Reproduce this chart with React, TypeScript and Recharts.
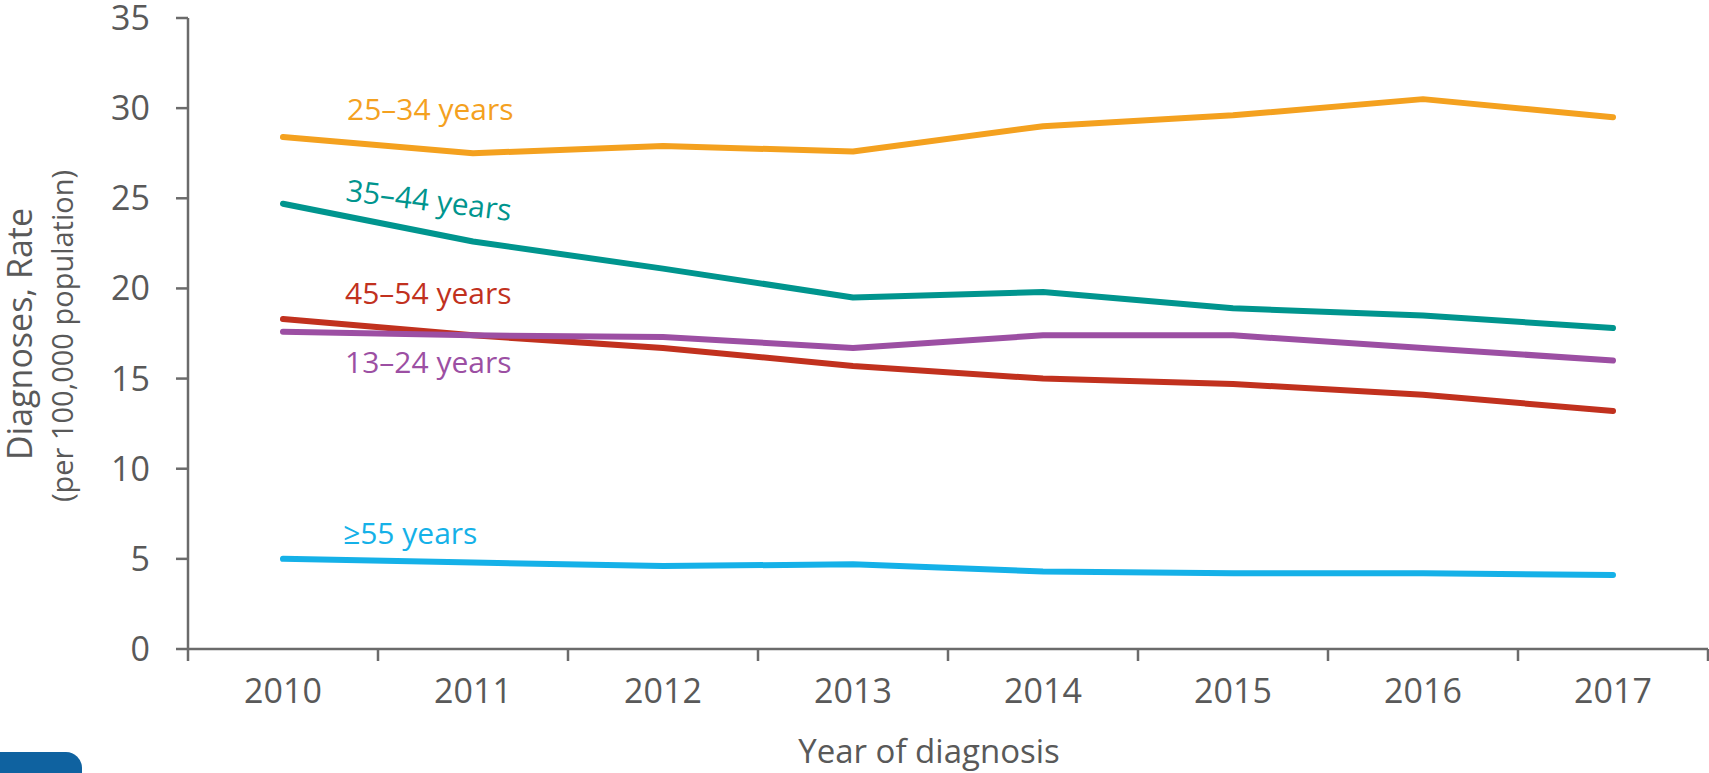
import React from "react";
import { LineChart, Line, XAxis, YAxis, Label } from "recharts";

const years = [2010, 2011, 2012, 2013, 2014, 2015, 2016, 2017];
const age13to24 = [17.6, 17.4, 17.3, 16.7, 17.4, 17.4, 16.7, 16.0];
const age25to34 = [28.4, 27.5, 27.9, 27.6, 29.0, 29.6, 30.5, 29.5];
const age35to44 = [24.7, 22.6, 21.1, 19.5, 19.8, 18.9, 18.5, 17.8];
const age45to54 = [18.3, 17.4, 16.7, 15.7, 15.0, 14.7, 14.1, 13.2];
const age55plus = [5.0, 4.8, 4.6, 4.7, 4.3, 4.2, 4.2, 4.1];
const yTicks = [0, 5, 10, 15, 20, 25, 30, 35];

const FONT = "Open Sans";
const AXIS = "#6b6b6b";
const TEXT = "#595959";

const data = years.map((year, i) => ({
  year,
  a13: age13to24[i],
  a25: age25to34[i],
  a35: age35to44[i],
  a45: age45to54[i],
  a55: age55plus[i],
}));

// whole years carry the labels, half years carry the tick marks between categories
const xTicks = years.flatMap((y) => [y - 0.5, y]).concat(years[years.length - 1] + 0.5);

const series = [
  { key: "a25", name: "25–34 years", color: "#f4a11f", dx: 64, dy: -17, rotate: 0 },
  { key: "a35", name: "35–44 years", color: "#00958e", dx: 62, dy: -3, rotate: 7 },
  { key: "a45", name: "45–54 years", color: "#c1311e", dx: 62, dy: -15, rotate: 0 },
  { key: "a13", name: "13–24 years", color: "#9c4fa3", dx: 62, dy: 41, rotate: 0 },
  { key: "a55", name: "≥55 years", color: "#15b1e8", dx: 60, dy: -15, rotate: 0 },
];

function YearTick(props: any) {
  const { x, y, payload } = props;
  const v = payload.value;
  if (!Number.isInteger(v)) {
    return <line x1={x} y1={y} x2={x} y2={y + 12} stroke={AXIS} strokeWidth={2.5} />;
  }
  return (
    <text x={x} y={y + 54} textAnchor="middle" fill={TEXT} fontSize={34} fontFamily={FONT}>
      {v}
    </text>
  );
}

function seriesLabel(s: (typeof series)[number]) {
  return (p: any) => {
    if (p.index !== 0) return null;
    const x = p.x + s.dx;
    const y = p.y + s.dy;
    return (
      <text
        x={x}
        y={y}
        fill={s.color}
        fontSize={30}
        fontFamily={FONT}
        transform={s.rotate ? `rotate(${s.rotate} ${x} ${y})` : undefined}
      >
        {s.name}
      </text>
    );
  };
}

export default function App() {
  return (
    <div style={{ position: "absolute", left: 0, top: 0, width: 1709, height: 773, background: "#fff" }}>
      <LineChart width={1709} height={773} data={data} margin={{ top: 18, right: 1, bottom: 0, left: 0 }}>
        <XAxis
          dataKey="year"
          type="number"
          domain={[2009.5, 2017.5]}
          ticks={xTicks}
          interval={0}
          tick={<YearTick />}
          tickLine={false}
          tickSize={0}
          tickMargin={0}
          height={124}
          axisLine={{ stroke: AXIS, strokeWidth: 2.5 }}
        >
          <Label
            content={() => (
              <text x={929} y={763} textAnchor="middle" fill={TEXT} fontSize={33} fontFamily={FONT}>
                Year of diagnosis
              </text>
            )}
          />
        </XAxis>
        <YAxis
          domain={[0, 35]}
          ticks={yTicks}
          interval={0}
          width={188}
          tickSize={12}
          tickMargin={26}
          tick={{ fill: TEXT, fontSize: 34, fontFamily: FONT }}
          tickLine={{ stroke: AXIS, strokeWidth: 2.5 }}
          axisLine={{ stroke: AXIS, strokeWidth: 2.5 }}
        >
          <Label
            content={() => (
              <g fill={TEXT} fontFamily={FONT}>
                <text x={32} y={334} textAnchor="middle" fontSize={34} transform="rotate(-90 32 334)">
                  Diagnoses, Rate
                </text>
                <text x={73} y={336} textAnchor="middle" fontSize={29} transform="rotate(-90 73 336)">
                  (per 100,000 population)
                </text>
              </g>
            )}
          />
        </YAxis>
        {series.map((s) => (
          <Line
            key={s.key}
            dataKey={s.key}
            name={s.name}
            stroke={s.color}
            strokeWidth={6}
            strokeLinecap="round"
            strokeLinejoin="round"
            dot={false}
            activeDot={false}
            isAnimationActive={false}
            label={seriesLabel(s)}
          />
        ))}
      </LineChart>
      <div
        style={{
          position: "absolute",
          left: 0,
          top: 752,
          width: 82,
          height: 21,
          background: "#0f62a0",
          borderTopRightRadius: 16,
        }}
      />
    </div>
  );
}
